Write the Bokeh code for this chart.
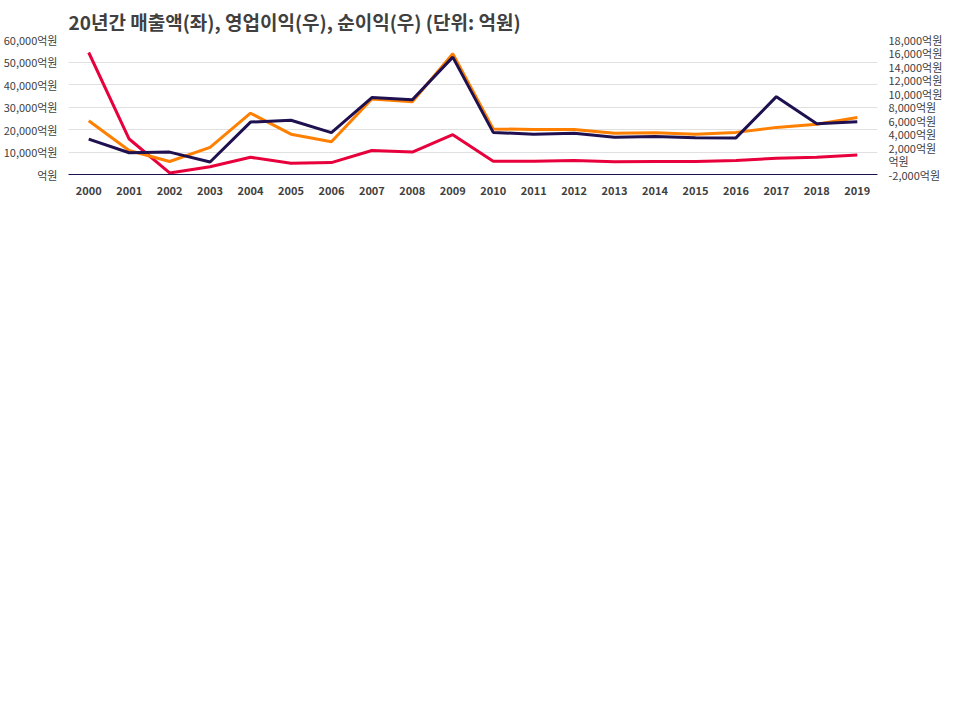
from bokeh.plotting import figure
from bokeh.models import Range1d, LinearAxis, FixedTicker, CustomJSTickFormatter, Legend, LegendItem
from bokeh.embed import file_html
from bokeh.resources import INLINE

years = list(range(2000, 2020))
revenue = [54220, 15770, 710, 3460, 7630, 4980, 5290, 10680, 9970, 17700,
           5900, 5900, 6200, 5700, 5800, 5800, 6200, 7220, 7630, 8650]
op_profit = [5970, 1560, -70, 2030, 7080, 3970, 2850, 9190, 8780, 15900,
             4750, 4680, 4680, 4100, 4170, 3970, 4240, 4980, 5460, 6440]
net_profit = [3250, 1220, 1320, -140, 5760, 6030, 4200, 9390, 9080, 15390,
              4240, 3970, 4100, 3530, 3630, 3460, 3420, 9530, 5530, 5830]

FONT = "Noto Sans CJK KR"
fmt = CustomJSTickFormatter(code="return tick == 0 ? '억원' : tick.toLocaleString('en-US') + '억원';")

p = figure(width=945, height=705, output_backend="svg", toolbar_location=None,
           x_range=Range1d(1999.5, 2019.5), y_range=Range1d(0, 60000),
           title="20년간 매출액(좌), 영업이익(우), 순이익(우) (단위: 억원)")
p.title.text_font = FONT
p.title.text_font_size = "19px"
p.title.text_color = "#404040"
p.title.text_font_style = "bold"
p.outline_line_color = None
p.extra_y_ranges = {"r": Range1d(-2000, 18000)}

p.yaxis.ticker = FixedTicker(ticks=list(range(0, 60001, 10000)))
p.yaxis.formatter = fmt
ra = LinearAxis(y_range_name="r", ticker=FixedTicker(ticks=list(range(-2000, 18001, 2000))), formatter=fmt)
p.add_layout(ra, "right")
for ax in [p.yaxis[0], ra]:
    ax.axis_line_color = None
    ax.major_tick_line_color = None
    ax.minor_tick_line_color = None
    ax.major_label_text_font = FONT
    ax.major_label_text_font_size = "11px"
    ax.major_label_text_color = "#404040"
p.xaxis.ticker = FixedTicker(ticks=years)
p.xaxis.axis_line_color = "#1f1050"
p.xaxis.major_tick_line_color = None
p.xaxis.minor_tick_line_color = None
p.xaxis.major_label_text_font = FONT
p.xaxis.major_label_text_font_size = "11px"
p.xaxis.major_label_text_font_style = "bold"
p.xaxis.major_label_text_color = "#404040"
p.xgrid.grid_line_color = None
p.ygrid.grid_line_color = "#e0e0e0"

r1 = p.line(years, revenue, line_color="#e8003c", line_width=3)
r2 = p.line(years, op_profit, line_color="#ff8000", line_width=3, y_range_name="r")
r3 = p.line(years, net_profit, line_color="#1f1050", line_width=3, y_range_name="r")

leg = Legend(items=[LegendItem(label="매출액", renderers=[r1]),
                    LegendItem(label="영업이익", renderers=[r2]),
                    LegendItem(label="순이익", renderers=[r3])],
             orientation="horizontal", location=(235, 0), border_line_color=None,
             label_text_font=FONT, label_text_font_size="19px", label_text_font_style="bold",
             label_text_color="#404040", glyph_width=30, spacing=20, padding=2, margin=4)
p.add_layout(leg, "below")

open("out.html", "w").write(file_html(p, INLINE))
